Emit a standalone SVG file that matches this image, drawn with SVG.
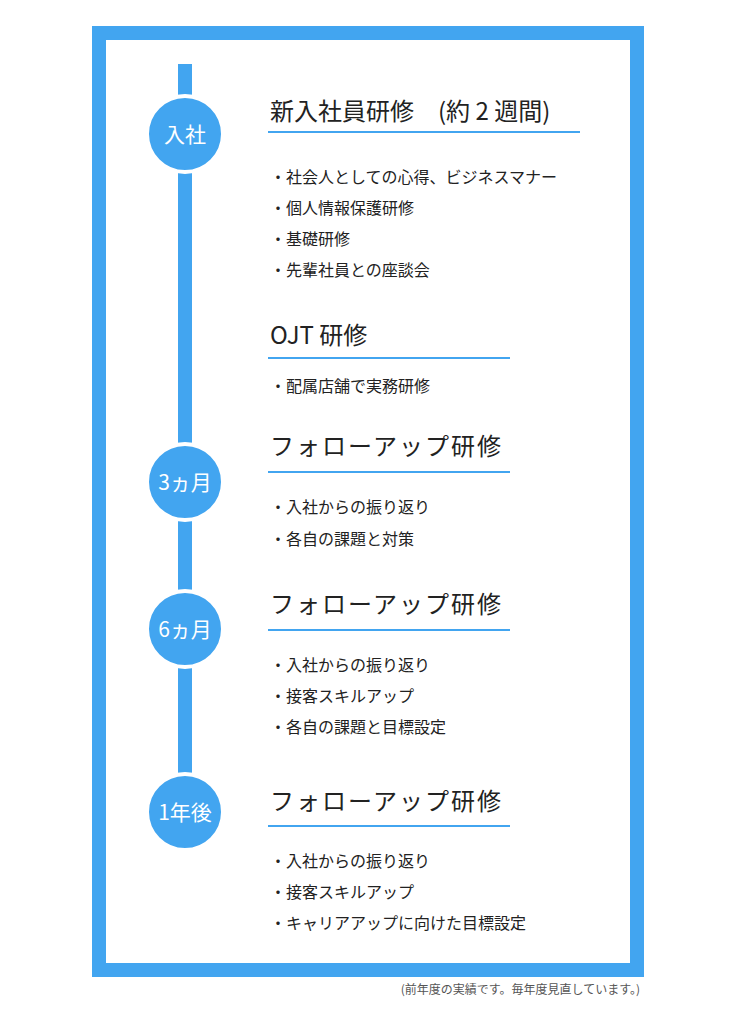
<svg xmlns="http://www.w3.org/2000/svg" width="736" height="1024" viewBox="0 0 736 1024">
<style>
text{font-family:"Noto Sans CJK JP","Noto Sans",sans-serif;fill:#222}
.h{font-size:24px}
.i{font-size:16px}
.c{font-size:21px;fill:#fff;text-anchor:middle}
.u{stroke:#42a5f0;stroke-width:2}
.n{fill:#42a5f0;stroke:#fff;stroke-width:4}
</style>
<rect width="736" height="1024" fill="#fff"/>
<rect x="99" y="33" width="538" height="937" fill="none" stroke="#42a5f0" stroke-width="14"/>
<g id="connectors"><rect x="178" y="64" width="14" height="740" fill="#42a5f0"/></g>
<g id="n1"><circle class="n" cx="185" cy="134" r="38"/><text class="c" x="185" y="142">入社</text>
<text class="h" x="270" y="120">新入社員研修　(約 2 週間)</text><line class="u" x1="268" y1="132" x2="580" y2="132"/>
<text class="i" x="270" y="183">・社会人としての心得、ビジネスマナー</text>
<text class="i" x="270" y="214">・個人情報保護研修</text>
<text class="i" x="270" y="245">・基礎研修</text>
<text class="i" x="270" y="276">・先輩社員との座談会</text></g>
<g id="n2"><text class="h" x="270" y="344">OJT 研修</text><line class="u" x1="268" y1="358" x2="510" y2="358"/>
<text class="i" x="270" y="392">・配属店舗で実務研修</text></g>
<g id="n3"><circle class="n" cx="185" cy="482" r="38"/><text class="c" x="185" y="490">3ヵ月</text>
<text class="h" x="270" y="455" letter-spacing="2">フォローアップ研修</text><line class="u" x1="268" y1="472" x2="510" y2="472"/>
<text class="i" x="270" y="513">・入社からの振り返り</text>
<text class="i" x="270" y="545">・各自の課題と対策</text></g>
<g id="n4"><circle class="n" cx="185" cy="629" r="38"/><text class="c" x="185" y="637">6ヵ月</text>
<text class="h" x="270" y="613" letter-spacing="2">フォローアップ研修</text><line class="u" x1="268" y1="630" x2="510" y2="630"/>
<text class="i" x="270" y="671">・入社からの振り返り</text>
<text class="i" x="270" y="702">・接客スキルアップ</text>
<text class="i" x="270" y="733">・各自の課題と目標設定</text></g>
<g id="n5"><circle class="n" cx="185" cy="812" r="38"/><text class="c" x="185" y="820">1年後</text>
<text class="h" x="270" y="810" letter-spacing="2">フォローアップ研修</text><line class="u" x1="268" y1="826" x2="510" y2="826"/>
<text class="i" x="270" y="867">・入社からの振り返り</text>
<text class="i" x="270" y="898">・接客スキルアップ</text>
<text class="i" x="270" y="929">・キャリアアップに向けた目標設定</text></g>
<text x="640" y="994" font-size="12" text-anchor="end" style="fill:#555">(前年度の実績です。毎年度見直しています。)</text>
</svg>
